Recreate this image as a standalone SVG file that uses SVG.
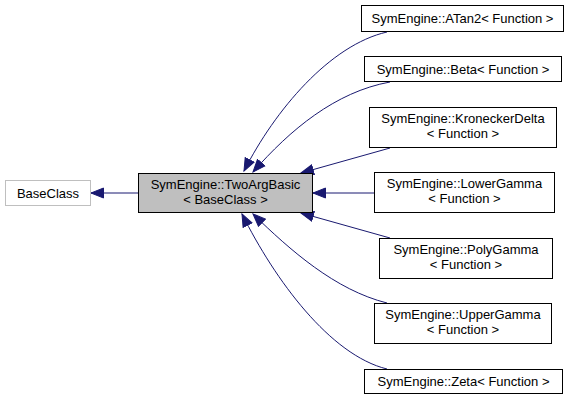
<svg xmlns="http://www.w3.org/2000/svg" width="572" height="401" viewBox="0 0 572 401">
<style>
.box{fill:#ffffff;stroke:#000000;stroke-width:1}
.gray{fill:#bfbfbf;stroke:#000000;stroke-width:1}
.ext{fill:#ffffff;stroke:#bfbfbf;stroke-width:1}
text{font-family:"Liberation Sans",Arial,sans-serif;font-size:13px;fill:#000000;text-anchor:middle}
.edge{fill:none;stroke:#191970;stroke-width:1;marker-end:url(#ah)}
</style>
<defs>
<marker id="ah" markerUnits="userSpaceOnUse" markerWidth="14" markerHeight="12" refX="13" refY="6" orient="auto">
<path d="M0.5,1 L13,6 L0.5,11 z" fill="#191970" stroke="#191970" stroke-width="1"/>
</marker>
</defs>
<rect width="572" height="401" fill="#ffffff"/>
<g id="edges">
<path class="edge" d="M138,193 L91,193"/>
<path class="edge" d="M387,32 C330,45 275,110 244,171"/>
<path class="edge" d="M390,82 C335,92 290,130 253,172"/>
<path class="edge" d="M390,148 L301,173"/>
<path class="edge" d="M374,193 L313,193"/>
<path class="edge" d="M390,238 L301,213"/>
<path class="edge" d="M387,303 C335,290 290,250 253,214"/>
<path class="edge" d="M387,369 C330,355 275,280 242,214"/>
</g>
<g id="BaseClass">
<rect class="ext" x="5.5" y="180.5" width="85" height="25"/>
<text x="48" y="197.5">BaseClass</text>
</g>
<g id="TwoArgBasic">
<rect class="gray" x="138.5" y="173.5" width="174" height="39"/>
<text x="225.5" y="189">SymEngine::TwoArgBasic</text>
<text x="225.5" y="204">&lt; BaseClass &gt;</text>
</g>
<g id="ATan2">
<rect class="box" x="361.5" y="5.5" width="202" height="26"/>
<text x="462.5" y="23">SymEngine::ATan2&lt; Function &gt;</text>
</g>
<g id="Beta">
<rect class="box" x="364.5" y="56.5" width="197" height="25"/>
<text x="463" y="74">SymEngine::Beta&lt; Function &gt;</text>
</g>
<g id="KroneckerDelta">
<rect class="box" x="369.5" y="107.5" width="187" height="40"/>
<text x="463" y="123">SymEngine::KroneckerDelta</text>
<text x="463" y="138">&lt; Function &gt;</text>
</g>
<g id="LowerGamma">
<rect class="box" x="374.5" y="172.5" width="180" height="40"/>
<text x="464.5" y="188">SymEngine::LowerGamma</text>
<text x="464.5" y="203">&lt; Function &gt;</text>
</g>
<g id="PolyGamma">
<rect class="box" x="379.5" y="238.5" width="173" height="40"/>
<text x="466" y="254">SymEngine::PolyGamma</text>
<text x="466" y="269">&lt; Function &gt;</text>
</g>
<g id="UpperGamma">
<rect class="box" x="374.5" y="303.5" width="177" height="40"/>
<text x="463" y="319">SymEngine::UpperGamma</text>
<text x="463" y="334">&lt; Function &gt;</text>
</g>
<g id="Zeta">
<rect class="box" x="364.5" y="369.5" width="198" height="24"/>
<text x="463.5" y="386">SymEngine::Zeta&lt; Function &gt;</text>
</g>
</svg>
